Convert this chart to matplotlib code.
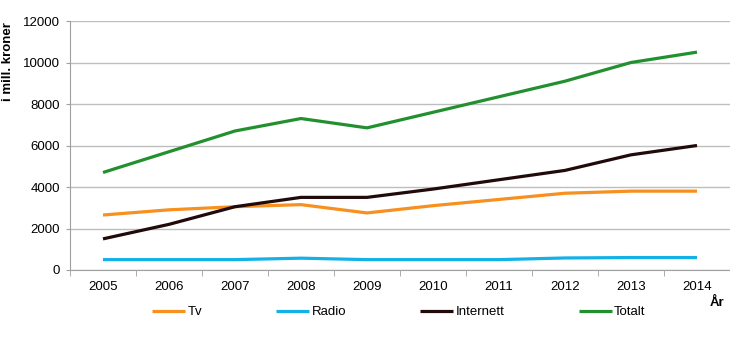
import matplotlib.pyplot as plt
import numpy as np

plt.rcParams['font.family'] = ['Liberation Sans', 'DejaVu Sans']

years = ['2005', '2006', '2007', '2008', '2009', '2010', '2011', '2012', '2013', '2014']
tv = [2650, 2900, 3050, 3150, 2750, 3100, 3400, 3700, 3800, 3800]
radio = [500, 500, 500, 570, 500, 500, 500, 580, 600, 600]
internett = [1500, 2200, 3050, 3500, 3500, 3900, 4350, 4800, 5550, 6000]
totalt = [4700, 5700, 6700, 7300, 6850, 7600, 8350, 9100, 10000, 10500]

series = [('Tv', tv, '#F7901E'),
          ('Radio', radio, '#14B1E7'),
          ('Internett', internett, '#210A0A'),
          ('Totalt', totalt, '#23902F')]

W, H = 730, 337
fig = plt.figure(figsize=(W/100, H/100), dpi=100)
ax = fig.add_axes([70/W, 1 - 270/H, 660/W, 249/H])

x = np.arange(len(years))
for name, vals, col in series:
    ax.plot(x, vals, color=col, lw=2.3, label=name, solid_capstyle='butt')

ax.set_xlim(-0.5, len(years) - 0.5)
ax.set_ylim(0, 12000)
ax.set_yticks(range(0, 12001, 2000))
ax.set_xticks(x)
ax.set_xticklabels(years)
ax.set_xticks(np.arange(-0.5, len(years)), minor=True)
ax.tick_params(axis='x', which='major', length=0, pad=8, labelsize=9.5)
ax.tick_params(axis='x', which='minor', length=4, color='#A0A0A0', direction='out')
ax.tick_params(axis='y', length=3, color='#A0A0A0', labelsize=9.5, pad=4)

ax.grid(axis='y', color='#BEBEBE', lw=1)
ax.set_axisbelow(True)
for s in ['top', 'right']:
    ax.spines[s].set_visible(False)
for s in ['left', 'bottom']:
    ax.spines[s].set_color('#A0A0A0')

# axis titles
fig.text(8/W, 1 - 22/H, 'i mill. kroner', fontsize=9.5, fontweight='bold',
         rotation=90, ha='center', va='top')
fig.text(717/W, 1 - 303/H, 'År', fontsize=9.5, fontweight='bold', ha='center', va='center')

fig.legend(loc='center left', bbox_to_anchor=(152/W, 1 - 312/H), ncol=4, frameon=False,
           fontsize=9.5, handlelength=2.5, handletextpad=0.2, columnspacing=5.6,
           borderpad=0, borderaxespad=0)

fig.savefig('out.png', dpi=100)
